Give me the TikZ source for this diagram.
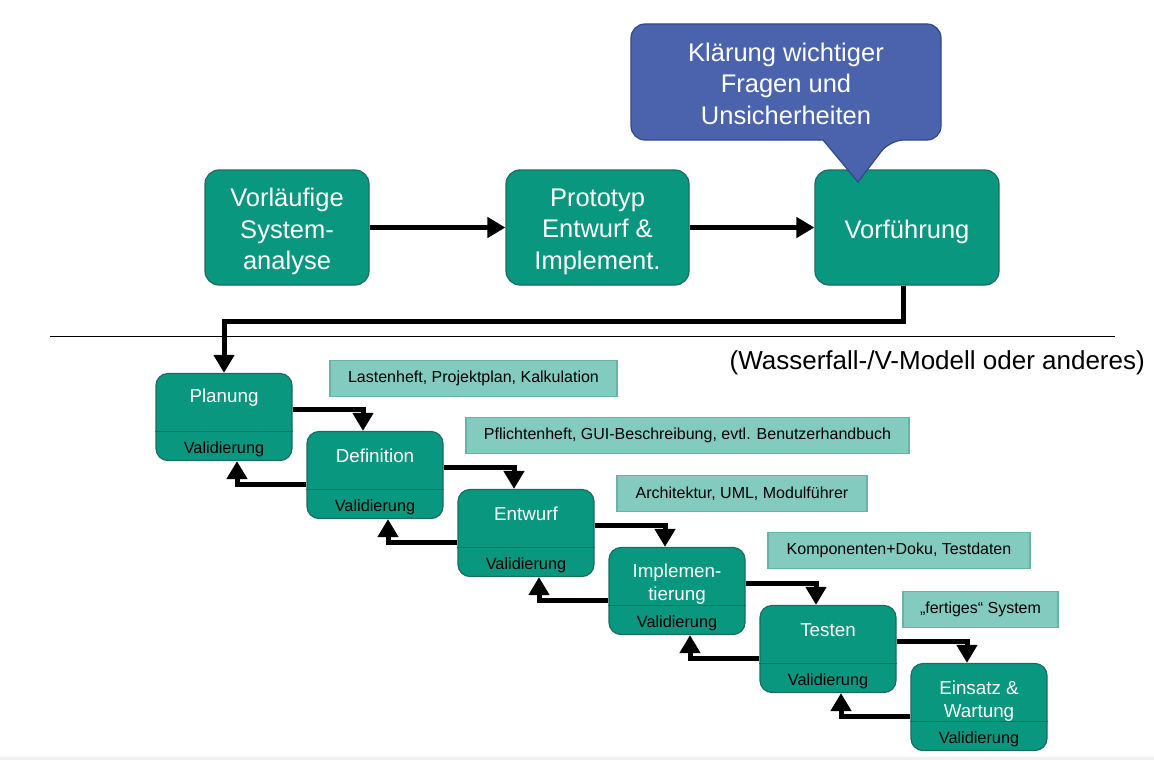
\documentclass[tikz,border=0pt]{standalone}
\usepackage{fontspec}
\setmainfont{Liberation Sans}
\usetikzlibrary{arrows.meta,calc}
\definecolor{teal1}{RGB}{10,151,127}
\definecolor{tealdark}{RGB}{28,108,94}
\definecolor{bluefill}{RGB}{74,99,172}
\definecolor{bluedark}{RGB}{47,72,138}
\definecolor{infofill}{RGB}{130,203,190}
\definecolor{infodark}{RGB}{105,178,164}
\tikzset{
 topbox/.style={draw=tealdark, fill=teal1, line width=1.2pt, rounded corners=14pt, minimum height=115pt, inner sep=0pt},
 toptext/.style={text=white, align=center, font=\fontsize{25.5}{31.5}\selectfont, inner sep=0pt},
 phasebox/.style={draw=tealdark, fill=teal1, line width=1.2pt, rounded corners=12pt, minimum width=136pt, minimum height=87pt, inner sep=0pt},
 ptitle/.style={text=white, align=center, font=\fontsize{18.8}{23}\selectfont, inner sep=0pt},
 pval/.style={text=black, font=\fontsize{16.3}{18}\selectfont, inner sep=0pt},
 infobox/.style={draw=infodark, fill=infofill, line width=1.2pt, minimum height=36pt, font=\fontsize{16}{18}\selectfont, inner sep=0pt},
 flow/.style={line width=5pt, -{Triangle[length=18pt,width=20pt]}},
}
\newcommand{\mkphase}[5]{%
 \node[phasebox] (#1) at (#2,#3) {};
 \draw[tealdark, line width=1.2pt] ([yshift=-14.5pt]#1.west) -- ([yshift=-14.5pt]#1.east);
 \node[ptitle] (#1t) at ([yshift=#5]#1.center) {#4};
 \node[pval] (#1v) at ([yshift=-32.5pt]#1.center) {Validierung};
}
\begin{document}
\begin{tikzpicture}[x=1pt,y=-1pt]
\useasboundingbox (0,0) rectangle (1154,760);
\fill[gray!12] (0,757) rectangle (1154,760);
% top row
\node[topbox, minimum width=164pt] (vsa) at (287,227.5) {};
\node[toptext] (vsat) at ([yshift=-4pt]vsa.center) {Vorläufige\\System-\\analyse};
\node[topbox, minimum width=183pt] (proto) at (597.5,227.5) {};
\node[toptext] (protot) at ([yshift=-4pt]proto.center) {Prototyp\\Entwurf \&\\Implement.};
\node[topbox, minimum width=184pt] (vorf) at (907,227.5) {};
\node[toptext] (vorft) at ([yshift=-4pt]vorf.center) {Vorführung};
\draw[flow] (vsa) -- (proto);
\draw[flow] (proto) -- (vorf);
% callout
\draw[draw=bluedark, fill=bluefill, line width=1.2pt, rounded corners=14pt]
 (631,24) -- (941,24) -- (941,140) -- (890,140) [sharp corners] -- (858,182) -- (823,140) [rounded corners=14pt] -- (631,140) -- cycle;
\node[toptext] (callout) at (786,83.5) {Klärung wichtiger\\Fragen und\\Unsicherheiten};
% separator
\coordinate (sepL) at (50,336);
\coordinate (sepR) at (1115,336);
\draw[line width=1pt] (sepL) -- (sepR);
\node[anchor=east, font=\fontsize{26}{30}\selectfont, inner sep=0pt] (model) at (1145,363) {(Wasserfall-/V-Modell oder anderes)};
% phases
\mkphase{plan}{224}{417}{Planung}{19pt}
\mkphase{defi}{375}{475}{Definition}{19pt}
\mkphase{entw}{526}{533}{Entwurf}{19pt}
\mkphase{impl}{677}{591}{Implemen-\\tierung}{7pt}
\mkphase{test}{828}{649}{Testen}{19pt}
\mkphase{eins}{979}{707}{Einsatz \&\\Wartung}{6pt}
\draw[flow] ([xshift=-4pt]vorf.south) -- ++(0,36) -| (plan.north);
\foreach \a/\b in {plan/defi,defi/entw,entw/impl,impl/test,test/eins}{
 \draw[flow] ([yshift=7.5pt]\a.east) -| ([xshift=-12pt]\b.north);
 \draw[flow] ([yshift=-9.5pt]\b.west) -| ([xshift=13pt]\a.south);
}
% info boxes
\node[infobox, minimum width=287pt] (i1) at (473.5,378.5) {Lastenheft, Projektplan, Kalkulation};
\node[infobox, minimum width=443pt] (i2) at (687.5,435.5) {Pflichtenheft, GUI-Beschreibung, evtl. Benutzerhandbuch};
\node[infobox, minimum width=250pt] (i3) at (742,493.5) {Architektur, UML, Modulführer};
\node[infobox, minimum width=262pt] (i4) at (899,550.5) {Komponenten+Doku, Testdaten};
\node[infobox, minimum width=155pt] (i5) at (980.5,609.5) {„fertiges“ System};
\end{tikzpicture}
\end{document}
